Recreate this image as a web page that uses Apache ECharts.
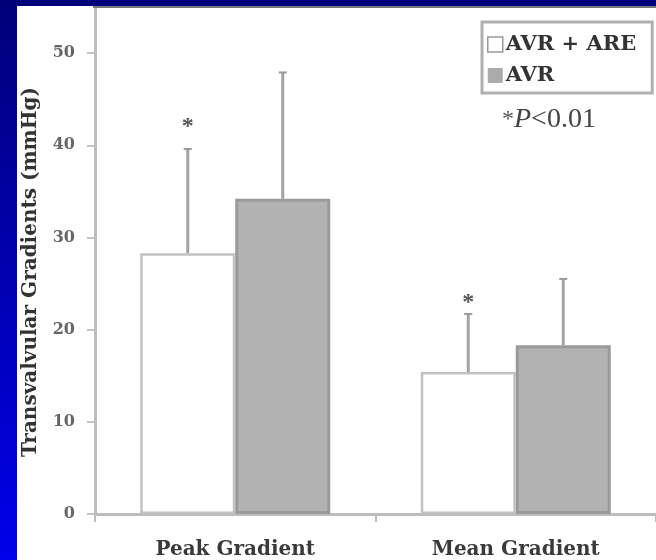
<!DOCTYPE html>
<html>
<head>
<meta charset="utf-8">
<script src="https://cdn.jsdelivr.net/npm/echarts@6/dist/echarts.min.js"></script>
<style>
html,body{margin:0;padding:0;background:#fff;}
#chart{width:656px;height:560px;}
</style>
</head>
<body>
<div id="chart"></div>
<script>
// ---- data ----
const categories = ['Peak Gradient', 'Mean Gradient'];
const seriesNames = ['AVR + ARE', 'AVR'];
const avrAreMean = [28.3, 15.4];
const avrAreSD = [11.3, 6.3];
const avrMean = [34.2, 18.3];
const avrSD = [13.7, 7.2];
const asteriskPos = [42.6, 23.5];          // asterisks above the AVR + ARE bars
const yTickValues = [0, 10, 20, 30, 40, 50];
const yAxisTitle = 'Transvalvular Gradients (mmHg)';
const pNote = 'P';

// ---- styling constants ----
const BAR_W = 95;
const SERIF = '"DejaVu Serif", "Liberation Serif", serif';

const chart = echarts.init(document.getElementById('chart'), null, {renderer: 'canvas'});

function errRender(offsetSign) {
  return function (params, api) {
    const base = api.coord([api.value(0), api.value(1)]);
    const top = api.coord([api.value(0), api.value(2)]);
    const x = base[0] + offsetSign * BAR_W / 2;
    const st = {stroke: '#a3a3a3', lineWidth: 3};
    return {
      type: 'group',
      children: [
        {type: 'line', shape: {x1: x, y1: base[1], x2: x, y2: top[1]}, style: st},
        {type: 'line', shape: {x1: x - 4, y1: top[1], x2: x + 4, y2: top[1]}, style: {stroke: '#999', lineWidth: 2}}
      ]
    };
  };
}

const option = {
  backgroundColor: '#ffffff',
  animation: false,
  grid: {left: 95, right: 0, top: 7, bottom: 45, containLabel: false},
  legend: {
    orient: 'vertical',
    left: 482, top: 22,
    padding: [12, 16, 7, 5],
    borderColor: '#b0b0b0', borderWidth: 3,
    itemWidth: 15, itemHeight: 15, itemGap: 10,
    selectedMode: false,
    icon: 'rect',
    textStyle: {fontFamily: SERIF, fontWeight: 'bold', fontSize: 21, lineHeight: 15, color: '#333', padding: [0, 0, 0, -2]},
    data: [
      {name: seriesNames[0], itemStyle: {color: '#fff', borderColor: '#999', borderWidth: 1.5}},
      {name: seriesNames[1], itemStyle: {color: '#ababab', borderColor: '#ababab', borderWidth: 0}}
    ]
  },
  xAxis: {
    type: 'category',
    data: categories,
    axisLine: {lineStyle: {color: '#bdbdbd', width: 3}},
    axisTick: {show: true, alignWithLabel: false, length: 8, lineStyle: {color: '#bdbdbd', width: 2}},
    axisLabel: {fontFamily: SERIF, fontWeight: 'bold', fontSize: 20, color: '#3a3a3a', margin: 26}
  },
  yAxis: {
    type: 'value',
    min: 0, max: 55, interval: 10,
    splitLine: {show: false},
    axisLine: {show: true, lineStyle: {color: '#bdbdbd', width: 3}},
    axisTick: {show: true, length: 8, lineStyle: {color: '#c4c4c4', width: 2}, customValues: yTickValues},
    axisLabel: {
      fontFamily: SERIF, fontWeight: 'bold', fontSize: 16, color: '#666', margin: 20,
      customValues: yTickValues,
      formatter: v => (yTickValues.indexOf(v) >= 0 ? String(v) : '')
    }
  },
  series: [
    {
      name: seriesNames[0], type: 'bar', barWidth: BAR_W, barGap: '0%',
      itemStyle: {color: '#ffffff', borderColor: '#c2c2c2', borderWidth: 2.5},
      data: avrAreMean, z: 2
    },
    {
      name: seriesNames[1], type: 'bar', barWidth: BAR_W, barGap: '0%',
      itemStyle: {color: '#b2b2b2', borderColor: '#9a9a9a', borderWidth: 3},
      data: avrMean, z: 2
    },
    {
      name: 'err1', type: 'custom', z: 3,
      renderItem: errRender(-1),
      encode: {x: 0, y: [1, 2]},
      data: avrAreMean.map((m, i) => [i, m, m + avrAreSD[i]])
    },
    {
      name: 'err2', type: 'custom', z: 3,
      renderItem: errRender(1),
      encode: {x: 0, y: [1, 2]},
      data: avrMean.map((m, i) => [i, m, m + avrSD[i]])
    },
    {
      name: 'sig', type: 'custom', z: 4,
      encode: {x: 0, y: 1},
      renderItem: function (params, api) {
        const p = api.coord([api.value(0), api.value(1)]);
        return {
          type: 'text',
          style: {
            text: '*', x: p[0] - BAR_W / 2, y: p[1] + 5,
            fontFamily: '"Liberation Serif", serif', fontSize: 24, fontWeight: 'bold',
            fill: '#555', align: 'center', verticalAlign: 'middle'
          }
        };
      },
      data: asteriskPos.map((v, i) => [i, v])
    }
  ],
  graphic: [
    {
      type: 'rect', left: 0, top: 0, z: 10,
      shape: {width: 17, height: 560},
      style: {fill: new echarts.graphic.LinearGradient(0, 0, 0, 1, [
        {offset: 0, color: '#000078'}, {offset: 1, color: '#0000ea'}
      ])}
    },
    {type: 'rect', left: 0, top: 0, z: 10, shape: {width: 656, height: 6}, style: {fill: '#000078'}},
    {type: 'rect', left: 93, top: 6, z: 10, shape: {width: 563, height: 2}, style: {fill: '#777'}},
    {
      type: 'text', z: 10,
      x: 31, y: 272, rotation: Math.PI / 2,
      style: {
        text: yAxisTitle, fontFamily: SERIF, fontWeight: 'bold', fontSize: 20,
        fill: '#333', align: 'center', verticalAlign: 'middle'
      }
    },
    {
      type: 'text', z: 10, left: 502, top: 106,
      style: {
        text: '{a|*}{b|' + pNote + '}{c|<0.01}',
        rich: {
          a: {fontFamily: '"Liberation Serif", serif', fontSize: 24, fill: '#555'},
          b: {fontFamily: '"Liberation Serif", serif', fontSize: 28, fontStyle: 'italic', fill: '#444'},
          c: {fontFamily: '"Liberation Serif", serif', fontSize: 28, fill: '#444'}
        }
      }
    }
  ]
};
chart.setOption(option);
</script>
</body>
</html>
